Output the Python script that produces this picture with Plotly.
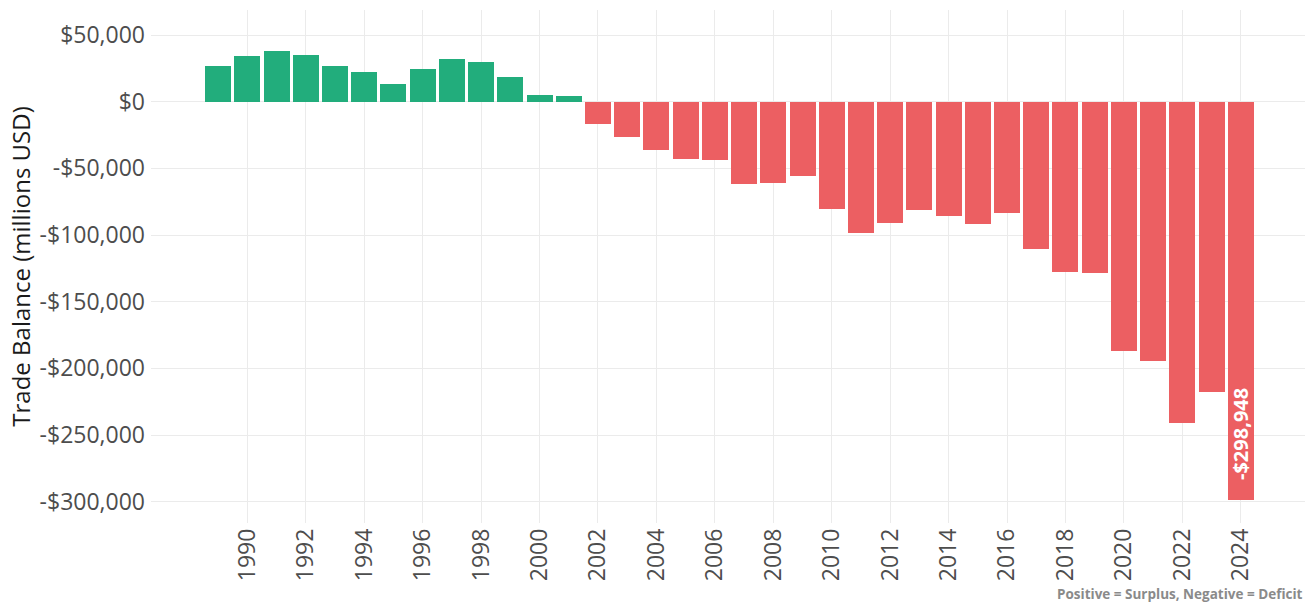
import plotly.graph_objects as go

# trade balance by year, millions USD
years = list(range(1989, 2025))
balance = [
    27000, 34500, 38250, 34700, 26500, 22500, 13000, 24250, 32000, 29750,
    18750, 4750, 4000, -16750, -26250, -36250, -42750, -43750, -61750, -60750,
    -56000, -80500, -98750, -90750, -81250, -85750, -91500, -83750, -110250, -127500,
    -128500, -187250, -194500, -241000, -218000, -298948,
]
tick_years = list(range(1990, 2025, 2))
y_ticks = [50000, 0, -50000, -100000, -150000, -200000, -250000, -300000]
y_labels = ["$50,000", "$0", "-$50,000", "-$100,000", "-$150,000", "-$200,000", "-$250,000", "-$300,000"]

GREEN = "#22ad7c"
RED = "#ec5f62"
colors = [GREEN if v >= 0 else RED for v in balance]

fig = go.Figure()
fig.add_trace(
    go.Bar(
        x=years,
        y=balance,
        marker=dict(color=colors, line=dict(width=0)),
        width=0.89,
        hovertemplate="%{x}: $%{y:,}<extra></extra>",
    )
)

# label on the last (largest deficit) bar
fig.add_annotation(
    x=years[-1],
    y=balance[-1],
    text="-${:,}".format(abs(balance[-1])),
    textangle=-90,
    showarrow=False,
    xanchor="center",
    yanchor="bottom",
    yshift=18,
    font=dict(family="Open Sans", size=20, color="white", weight="bold"),
)

fig.add_annotation(
    x=1, y=0, xref="paper", yref="paper",
    xanchor="right", yanchor="top", yshift=-60,
    text="Positive = Surplus, Negative = Deficit",
    showarrow=False,
    font=dict(family="Open Sans", size=13.5, color="#8a8a8a", weight="bold"),
)

fig.update_layout(
    width=1307,
    height=603,
    margin=dict(l=151, r=2, t=10, b=80),
    plot_bgcolor="white",
    paper_bgcolor="white",
    showlegend=False,
    font=dict(family="Open Sans", color="#4d4d4d"),
    bargap=0,
)

fig.update_xaxes(
    range=[1986.7, 2026.2],
    tickvals=tick_years,
    ticktext=[str(y) for y in tick_years],
    tickangle=-90,
    tickfont=dict(size=23, color="#4d4d4d"),
    showgrid=True,
    gridcolor="#ebebeb",
    gridwidth=1,
    zeroline=False,
    ticks="",
    showline=False,
    automargin=False,
)
fig.update_yaxes(
    range=[-316000, 68800],
    tickvals=y_ticks,
    ticktext=y_labels,
    tickfont=dict(size=23, color="#4d4d4d"),
    ticklabelstandoff=5,
    title=dict(text="Trade Balance (millions USD)", font=dict(size=24, color="#1a1a1a"), standoff=2),
    showgrid=True,
    gridcolor="#ebebeb",
    gridwidth=1,
    zeroline=False,
    ticks="",
    showline=False,
    automargin=False,
)

# drop the default page margin so the figure sits at the window's corner
fig.write_html(
    "out.html",
    config={"displayModeBar": False},
    post_script="document.body.style.margin='0';",
)
